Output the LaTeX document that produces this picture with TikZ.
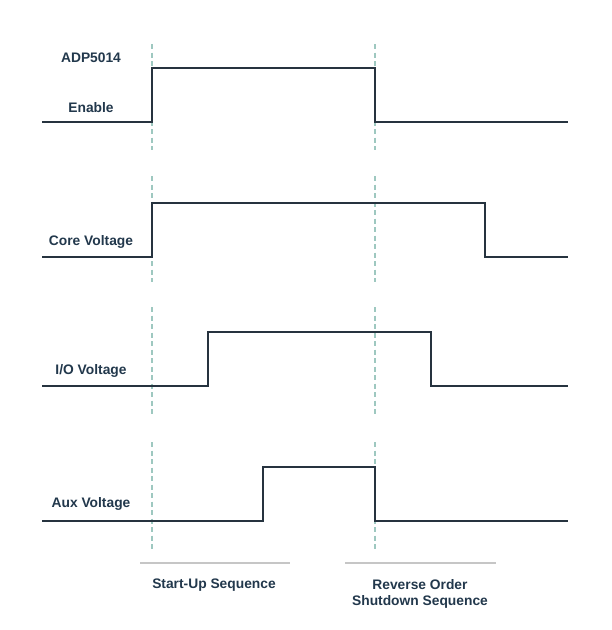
\documentclass[tikz,border=0pt]{standalone}
\usepackage{fontspec}
\setmainfont{Liberation Sans}
\definecolor{wave}{HTML}{26333F}
\definecolor{txt}{HTML}{22384C}
\definecolor{guide}{HTML}{9EC8C0}
\definecolor{bar}{HTML}{C6C6C6}
\begin{document}
\begin{tikzpicture}[x=1pt,y=-1pt,
  wavestyle/.style={draw=wave,line width=2pt,line join=miter},
  guideline/.style={draw=guide,line width=1.3pt,dash pattern=on 5pt off 3.5pt},
  barline/.style={draw=bar,line width=2pt},
  lbl/.style={font=\bfseries\fontsize{13.8}{16.5}\selectfont,text=txt,inner sep=0pt,align=center}]
\useasboundingbox (0,0) rectangle (612,630);
\fill[white] (0,0) rectangle (612,630);
% guides
\foreach \a/\b in {44/150,176/282,307/416,442/549}{
  \draw[guideline] (152,\a) -- (152,\b);
  \draw[guideline] (375,\a) -- (375,\b);
}
% waveforms
\draw[wavestyle] (42,122) -- (152,122) -- (152,68) -- (375,68) -- (375,122) -- (568,122);
\draw[wavestyle] (42,257) -- (152,257) -- (152,203) -- (485,203) -- (485,257) -- (568,257);
\draw[wavestyle] (42,386) -- (208,386) -- (208,332) -- (431,332) -- (431,386) -- (568,386);
\draw[wavestyle] (42,521) -- (263,521) -- (263,467) -- (375,467) -- (375,521) -- (568,521);
% labels
\node[lbl] (adp) at (91,57.5) {ADP5014};
\node[lbl] (en) at (91,107.5) {Enable};
\node[lbl] (core) at (91,241.5) {Core Voltage};
\node[lbl] (io) at (91,370.5) {I/O Voltage};
\node[lbl] (aux) at (91,503.5) {Aux Voltage};
% bottom
\draw[barline] (140,563) -- (290,563);
\draw[barline] (345,563) -- (496,563);
\node[lbl] (su) at (214,585.5) {Start-Up Sequence};
\node[lbl,anchor=north] (rev) at (420,579) {Reverse Order\\Shutdown Sequence};
\end{tikzpicture}
\end{document}
